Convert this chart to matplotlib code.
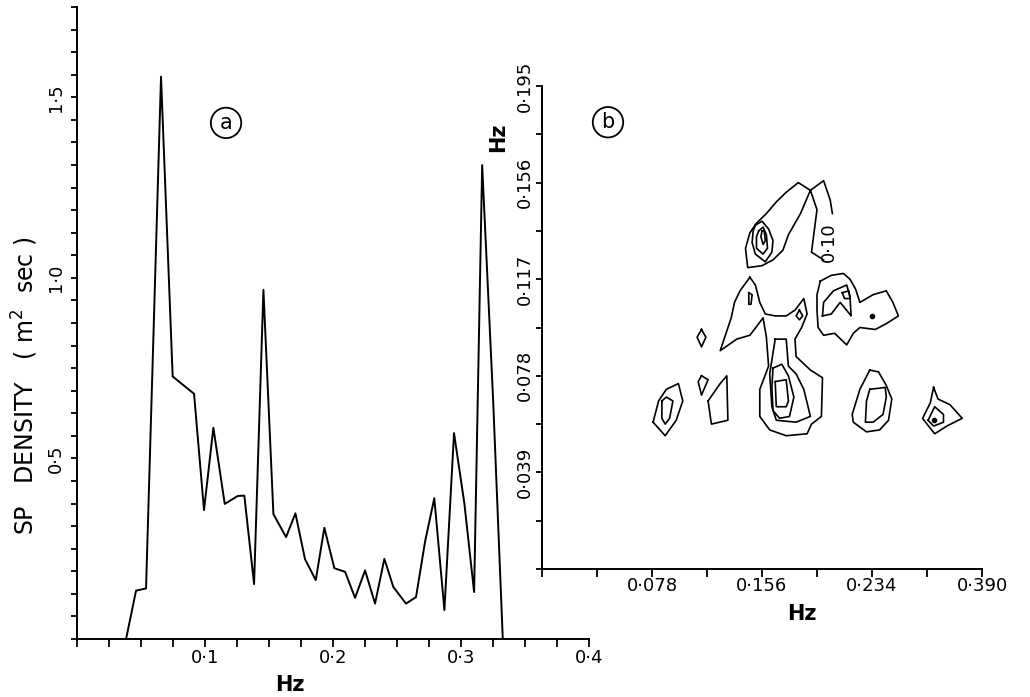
import numpy as np
import matplotlib
matplotlib.use('Agg')
import matplotlib.pyplot as plt

plt.rcParams['font.family'] = 'DejaVu Sans'

# ---- (a) spectral density ----
freq_a = [0.0383, 0.0461, 0.0539, 0.0656, 0.0747, 0.0914, 0.0992, 0.1065, 0.1154, 0.1255,
          0.1307, 0.1383, 0.1456, 0.1534, 0.1633, 0.1706, 0.1781, 0.1865, 0.1932, 0.2010,
          0.2094, 0.2172, 0.2250, 0.2328, 0.2401, 0.2471, 0.2570, 0.2648, 0.2719, 0.2791,
          0.2870, 0.2945, 0.3026, 0.3102, 0.3165, 0.3252, 0.3326]
dens_a = [0.0, 0.134, 0.140, 1.557, 0.727, 0.679, 0.357, 0.585, 0.374, 0.396,
          0.397, 0.152, 0.967, 0.346, 0.282, 0.348, 0.221, 0.163, 0.308, 0.196,
          0.186, 0.114, 0.190, 0.098, 0.222, 0.144, 0.098, 0.116, 0.270, 0.390,
          0.080, 0.570, 0.375, 0.130, 1.312, 0.650, 0.0]

# ---- (b) bispectrum contours, vertices in frequency bins ----
df = 0.0078  # Hz per bin

# outer 0.10 contour (broken by its label)
c010 = [(25.6, 16.0), (24.5, 16.4), (25.0, 18.6), (24.4, 19.6), (23.3, 20.0), (22.2, 19.5),
        (21.3, 19.0), (20.4, 18.4), (19.5, 17.9), (18.9, 17.4), (18.5, 16.6), (18.7, 15.6),
        (20.0, 15.7), (21.0, 16.0), (21.9, 16.5), (22.4, 17.3), (23.5, 18.4), (24.4, 19.6),
        (25.6, 20.1), (26.2, 19.1), (26.4, 18.4)]

top_1 = [(19.4, 17.8), (20.0, 18.0), (20.6, 17.6), (21.0, 17.0), (20.9, 16.4), (20.3, 15.9),
         (19.4, 16.3), (19.1, 16.9), (19.2, 17.5)]
top_2 = [(19.7, 17.5), (20.1, 17.7), (20.4, 17.3), (20.5, 16.6), (20.1, 16.3), (19.5, 16.6),
         (19.5, 17.2)]
top_3 = [(20.0, 17.5), (20.2, 17.5), (20.3, 17.0), (20.1, 16.8), (19.9, 17.2)]

mid_outer = [(18.9, 15.1), (18.0, 14.4), (17.5, 13.8), (17.2, 13.0), (16.2, 11.3), (17.7, 11.9),
             (18.9, 12.1), (20.1, 13.0), (20.4, 12.0), (20.6, 10.5), (19.8, 9.3), (19.8, 7.9),
             (20.7, 7.2), (22.2, 6.9), (24.1, 7.0), (24.5, 7.5), (25.4, 7.9), (25.5, 9.9),
             (24.4, 10.3), (23.1, 11.0), (23.0, 11.9), (23.6, 12.5), (24.1, 13.2), (23.8, 14.0),
             (23.0, 13.4), (22.2, 13.1), (21.2, 13.1), (20.3, 13.2), (19.8, 13.8), (19.4, 14.7)]
mid_2 = [(21.2, 11.9), (22.2, 11.9), (22.4, 10.5), (23.1, 10.1), (23.8, 9.3), (24.4, 7.9),
         (23.1, 7.6), (21.3, 7.7), (20.9, 8.4), (20.7, 10.1)]
mid_3 = [(21.0, 10.4), (21.8, 10.6), (22.4, 10.0), (22.9, 8.9), (22.5, 7.9), (21.6, 7.8),
         (21.0, 8.2), (20.9, 9.4)]
mid_4 = [(21.2, 9.7), (22.2, 9.8), (22.4, 8.7), (22.2, 8.4), (21.3, 8.4)]
small_1 = [(18.8, 14.3), (19.1, 14.2), (19.0, 13.7), (18.8, 13.7)]
small_2 = [(23.4, 13.4), (23.7, 13.1), (23.4, 12.9), (23.1, 13.1)]
small_3 = [(14.5, 12.4), (14.9, 12.0), (14.5, 11.5), (14.1, 12.0)]

right_1 = [(25.3, 14.9), (26.3, 15.2), (27.4, 15.3), (28.0, 15.0), (28.5, 14.5), (28.9, 13.8),
           (30.1, 14.2), (31.3, 14.4), (31.9, 13.8), (32.4, 13.1), (31.3, 12.7), (30.3, 12.4),
           (28.9, 12.5), (28.3, 12.2), (27.7, 11.6), (26.6, 12.2), (25.6, 12.1), (25.1, 12.5),
           (25.0, 13.4), (25.0, 14.2)]
right_2 = [(25.5, 13.1), (25.6, 13.8), (26.5, 14.4), (27.7, 14.7), (28.0, 14.1), (28.1, 13.1),
           (27.4, 13.6), (27.1, 13.8), (26.3, 13.2)]
right_3 = [(27.3, 14.3), (27.9, 14.4), (28.0, 14.0), (27.5, 14.0)]

low_1 = [(10.1, 7.6), (10.6, 8.7), (11.3, 9.3), (12.4, 9.6), (12.8, 8.7), (12.2, 7.7), (11.2, 6.9)]
low_2 = [(10.9, 8.7), (11.3, 8.9), (11.9, 8.7), (11.6, 7.8), (11.2, 7.5), (10.9, 7.8)]
low_3 = [(14.5, 10.0), (15.1, 9.8), (14.5, 9.0), (14.2, 9.7)]
low_4 = [(15.1, 8.7), (16.2, 9.6), (16.8, 10.0), (16.9, 7.7), (15.4, 7.5)]
low_5 = [(29.8, 10.3), (30.6, 10.2), (31.3, 9.5), (31.8, 8.8), (31.5, 7.7), (30.7, 7.2),
         (29.5, 7.1), (28.3, 7.6), (28.2, 8.0), (28.9, 9.3)]
low_6 = [(29.8, 9.3), (31.2, 9.4), (31.3, 8.9), (31.0, 8.0), (30.1, 7.6), (29.4, 7.6), (29.5, 8.7)]
low_7 = [(35.6, 9.4), (36.0, 8.8), (37.1, 8.5), (38.2, 7.8), (36.8, 7.4), (35.7, 7.0),
         (35.0, 7.5), (34.6, 7.8), (35.3, 8.6)]
low_8 = [(35.1, 7.7), (35.7, 8.4), (36.5, 8.0), (36.5, 7.6), (35.6, 7.4)]

closed = [top_1, top_2, top_3, mid_outer, mid_2, mid_3, mid_4, small_1, small_2, small_3,
          right_1, right_2, right_3, low_1, low_2, low_3, low_4, low_5, low_6, low_7, low_8]
peaks = [(30.0, 13.1), (35.6, 7.7)]

fig = plt.figure(figsize=(10.30, 6.97), dpi=100)
ax1 = fig.add_axes([0.0748, 0.0832, 0.4971, 0.9068])
ax2 = fig.add_axes([0.5262, 0.1836, 0.4272, 0.6930])

for ax in (ax1, ax2):
    ax.patch.set_visible(False)
    ax.spines['top'].set_visible(False)
    ax.spines['right'].set_visible(False)
    ax.spines['left'].set_linewidth(1.4)
    ax.spines['bottom'].set_linewidth(1.4)
    ax.tick_params(which='both', direction='out', width=1.3, labelsize=13)
    ax.tick_params(axis='x', which='both', length=6)
    ax.tick_params(axis='y', which='both', length=4.5)

# panel a
ax1.plot(freq_a, dens_a, color='k', lw=1.4)
ax1.set_xlim(0, 0.4)
ax1.set_ylim(0, 1.75)
ax1.set_xticks([0.1, 0.2, 0.3, 0.4])
ax1.set_xticklabels(['0·1', '0·2', '0·3', '0·4'])
ax1.set_xticks(np.linspace(0, 0.4, 17), minor=True)
ax1.set_yticks([0.5, 1.0, 1.5])
ax1.set_yticklabels(['0·5', '1·0', '1·5'], rotation=90, va='center')
ax1.set_yticks(np.linspace(0, 1.75, 29), minor=True)
ax1.tick_params(axis='x', pad=1)
ax1.tick_params(axis='y', pad=4)
ax1.set_xlabel('Hz', fontsize=15, fontweight='bold')
ax1.xaxis.set_label_coords(0.416, -0.057)
ax1.set_ylabel('SP   DENSITY   ( m$^{2}$  sec )', fontsize=17)
ax1.yaxis.set_label_coords(-0.072, 0.40)
ax1.text(0.1164, 1.429, 'a', fontsize=15, ha='center', va='center',
         bbox=dict(boxstyle='circle,pad=0.25', fc='none', ec='k', lw=1.3))

# panel b
ax2.plot([p[0] * df for p in c010], [p[1] * df for p in c010], color='k', lw=1.2)
for path in closed:
    xs = [p[0] * df for p in path] + [path[0][0] * df]
    ys = [p[1] * df for p in path] + [path[0][1] * df]
    ax2.plot(xs, ys, color='k', lw=1.2)
ax2.plot([p[0] * df for p in peaks], [p[1] * df for p in peaks], 'o', color='k', ms=3)
ax2.text(26.1 * df, 16.9 * df, '0·10', fontsize=13, rotation=90, ha='center', va='center')

ax2.set_xlim(0, 0.312)
ax2.set_ylim(0, 0.195)
ax2.set_xticks(np.linspace(0, 0.312, 9))
ax2.set_xticklabels(['', '', '0·078', '', '0·156', '', '0·234', '', '0·390'])
ax2.set_yticks(np.linspace(0, 0.195, 11))
ax2.set_yticklabels(['', '', '0·039', '', '0·078', '', '0·117', '', '0·156', '', '0·195'],
                    rotation=90, va='center')
ax2.tick_params(axis='x', pad=0)
ax2.tick_params(axis='y', pad=1)
ax2.set_xlabel('Hz', fontsize=15, fontweight='bold')
ax2.xaxis.set_label_coords(0.59, -0.0725)
ax2.set_ylabel('Hz', fontsize=15, fontweight='bold')
ax2.yaxis.set_label_coords(-0.077, 0.894)
ax2.text(0.15, 0.925, 'b', fontsize=15, ha='center', va='center', transform=ax2.transAxes,
         bbox=dict(boxstyle='circle,pad=0.25', fc='none', ec='k', lw=1.3))

fig.savefig('out.png', dpi=100)
